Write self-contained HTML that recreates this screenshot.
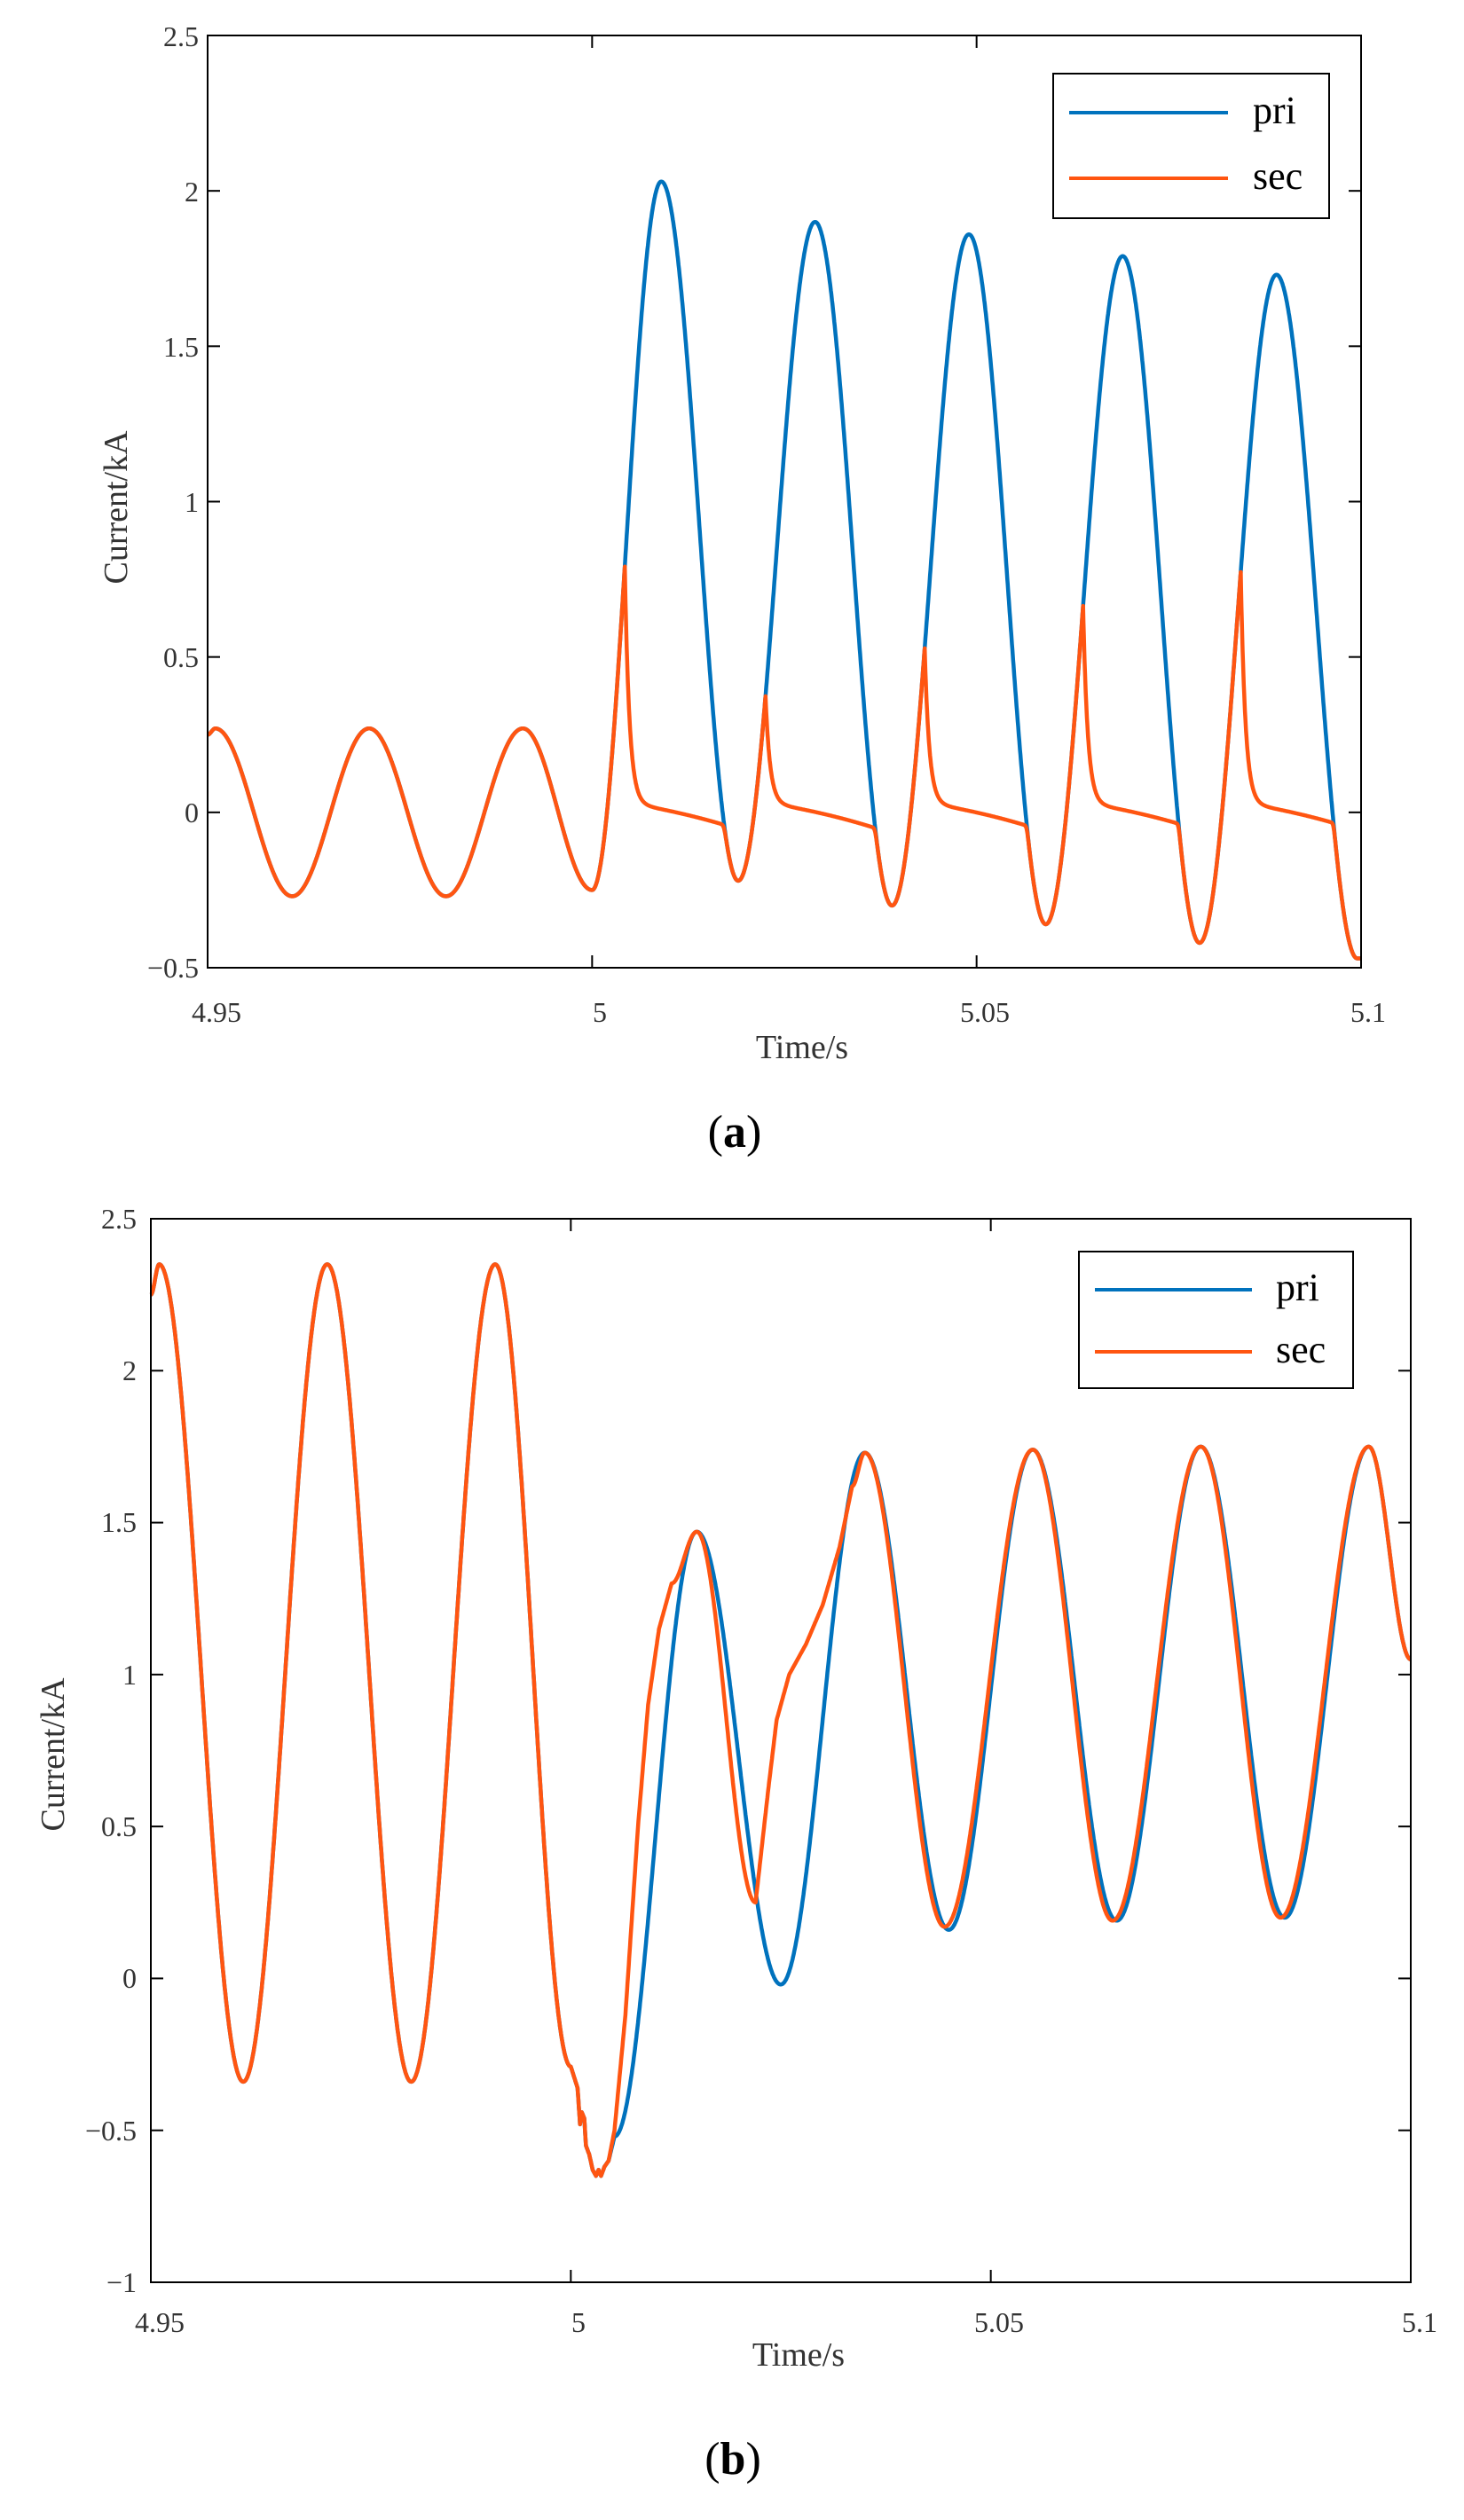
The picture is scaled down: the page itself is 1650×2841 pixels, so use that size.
<!DOCTYPE html>
<html><head><meta charset="utf-8">
<style>
html,body{margin:0;padding:0;background:#fff;}
svg{display:block;}
text{font-family:"Liberation Serif",serif;}
</style></head>
<body>
<svg id="s" width="1650" height="2841" viewBox="0 0 1650 2841" xmlns="http://www.w3.org/2000/svg">
<rect width="1650" height="2841" fill="#fff"/>
<g id="ga"></g>
<g id="gb"></g>
<g font-size="32" fill="#333" text-anchor="end">
<text x="224" y="52">2.5</text>
<text x="224" y="227">2</text>
<text x="224" y="402">1.5</text>
<text x="224" y="577">1</text>
<text x="224" y="752">0.5</text>
<text x="224" y="927">0</text>
<text x="224" y="1102">−0.5</text>
</g>
<g font-size="32" fill="#333" text-anchor="middle">
<text x="244" y="1152">4.95</text>
<text x="676" y="1152">5</text>
<text x="1110" y="1152">5.05</text>
<text x="1542" y="1152">5.1</text>
<text x="904" y="1193" font-size="38">Time/s</text>
<text transform="translate(143,572) rotate(-90)" font-size="38">Current/kA</text>
<text x="828" y="1293" font-size="52" fill="#000"><tspan>(</tspan><tspan font-weight="bold">a</tspan><tspan>)</tspan></text>
</g>
<g font-size="32" fill="#333" text-anchor="end">
<text x="154" y="1385">2.5</text>
<text x="154" y="1556">2</text>
<text x="154" y="1727">1.5</text>
<text x="154" y="1899">1</text>
<text x="154" y="2070">0.5</text>
<text x="154" y="2241">0</text>
<text x="154" y="2413">−0.5</text>
<text x="154" y="2584">−1</text>
</g>
<g font-size="32" fill="#333" text-anchor="middle">
<text x="180" y="2629">4.95</text>
<text x="652" y="2629">5</text>
<text x="1126" y="2629">5.05</text>
<text x="1600" y="2629">5.1</text>
<text x="900" y="2667" font-size="38">Time/s</text>
<text transform="translate(72,1978) rotate(-90)" font-size="38">Current/kA</text>
<text x="826" y="2789" font-size="52" fill="#000"><tspan>(</tspan><tspan font-weight="bold">b</tspan><tspan>)</tspan></text>
</g>
</svg>
<script>
var NS="http://www.w3.org/2000/svg";
var BLUE="#0072BD",ORG="#FF5511";
function el(tag,attrs,parent){var e=document.createElementNS(NS,tag);for(var k in attrs)e.setAttribute(k,attrs[k]);parent.appendChild(e);return e;}
function interp(knots,t){
  for(var i=1;i<knots.length;i++){
    var a=knots[i-1],b=knots[i];
    if(t<=b[0]){var s=(t-a[0])/(b[0]-a[0]);if(s<0)s=0;
      if(b[2]==='l')return a[1]+(b[1]-a[1])*s;
      return a[1]+(b[1]-a[1])*(1-Math.cos(Math.PI*s))/2;}
  }
  return knots[knots.length-1][1];
}
function drawAxes(g,L,R,T,B,xt,yt){
  var tl=14;
  el('rect',{x:L,y:T,width:R-L,height:B-T,fill:'none',stroke:'#000','stroke-width':2},g);
  xt.forEach(function(x){el('line',{x1:x,y1:B,x2:x,y2:B-tl,stroke:'#000','stroke-width':2},g);el('line',{x1:x,y1:T,x2:x,y2:T+tl,stroke:'#000','stroke-width':2},g);});
  yt.forEach(function(y){el('line',{x1:L,y1:y,x2:L+tl,y2:y,stroke:'#000','stroke-width':2},g);el('line',{x1:R,y1:y,x2:R-tl,y2:y,stroke:'#000','stroke-width':2},g);});
}
function poly(g,pts,color){el('polyline',{points:pts.join(' '),fill:'none',stroke:color,'stroke-width':4.5,'stroke-linejoin':'round'},g);}
function legend(g,x1,y1,x2,y2,l1,l2,ly1,ly2,tx){
  el('rect',{x:x1,y:y1,width:x2-x1,height:y2-y1,fill:'#fff',stroke:'#000','stroke-width':2},g);
  el('line',{x1:l1,y1:ly1,x2:l2,y2:ly1,stroke:BLUE,'stroke-width':4},g);
  el('line',{x1:l1,y1:ly2,x2:l2,y2:ly2,stroke:ORG,'stroke-width':4},g);
  var t1=el('text',{x:tx,y:ly1+12,'font-size':44,fill:'#000'},g);t1.textContent='pri';
  var t2=el('text',{x:tx,y:ly2+12,'font-size':44,fill:'#000'},g);t2.textContent='sec';
}
(function(){
  var g=document.getElementById('ga');
  var L=234,R=1534,T=40,B=1091;
  var X=function(t){return L+(t-4.95)/0.15*(R-L);};
  var Y=function(v){return B-(v+0.5)/3*(B-T);};
  var pk=[[4.95,0.25],[4.951,0.27],[4.961,-0.27],[4.971,0.27],[4.981,-0.27],[4.991,0.27],[5.0,-0.25],
          [5.009,2.03],[5.019,-0.22],[5.029,1.9],[5.039,-0.30],[5.049,1.86],[5.059,-0.36],[5.069,1.79],[5.079,-0.42],[5.089,1.73],[5.0995,-0.47],[5.1,-0.47]];
  var spikes=[0.78,0.36,0.52,0.65,0.76];
  var P=[],S=[];
  var mode='follow',k=-1,ts=0,vs=0;
  for(var i=0;i<=3000;i++){
    var t=4.95+i*0.00005;
    var p=interp(pk,t);
    var s=p;
    if(t>5.0){
      var c=Math.floor((t-5.0)/0.02+0.05);
      var ph=(t-5.0)-c*0.02;
      if(c!==k){k=c;mode='follow';}
      if(mode==='follow'){
        if(k<spikes.length && p>=spikes[k] && ph<0.0095){mode='decay';ts=t;vs=p;}
        s=p;
      }
      if(mode==='decay'){
        var dt=t-ts;
        var base=0.03-3.5*dt-150*dt*dt;
        var d=base+(vs-base)*Math.exp(-dt/0.0006);
        var kk=0.02;
        s=-kk*Math.log(Math.exp(-p/kk)+Math.exp(-d/kk));
        if(dt<0.0003)s=Math.min(p,d);
      }
    }
    P.push(X(t).toFixed(1)+','+Y(p).toFixed(1));
    S.push(X(t).toFixed(1)+','+Y(s).toFixed(1));
  }
  poly(g,P,BLUE);poly(g,S,ORG);
  var xt=[X(5.0),X(5.05)],yt=[];for(var v=-0.5;v<=2.51;v+=0.5)yt.push(Y(v));
  drawAxes(g,L,R,T,B,xt,yt);
  legend(g,1187,83,1498,246,1205,1384,127,201,1412);
})();
(function(){
  var g=document.getElementById('gb');
  var L=170,R=1590,T=1374,B=2573;
  var X=function(t){return L+(t-4.95)/0.15*(R-L);};
  var Y=function(v){return B-(v+1)/3.5*(B-T);};
  var common=[[4.95,2.25],[4.951,2.35],[4.961,-0.34],[4.971,2.35],[4.981,-0.34],[4.991,2.35],[5.0,-0.29],
    [5.0008,-0.36,'l'],[5.0011,-0.48,'l'],[5.0013,-0.44,'l'],[5.0016,-0.46,'l'],[5.0018,-0.55,'l'],[5.0022,-0.58,'l'],[5.0026,-0.63,'l'],[5.003,-0.65,'l'],[5.0033,-0.63,'l'],[5.0036,-0.65,'l'],[5.004,-0.62,'l'],[5.0045,-0.6,'l']];
  var pri=common.concat([[5.0052,-0.52,'l'],[5.015,1.47],[5.025,-0.02],[5.035,1.73],[5.045,0.16],[5.055,1.74],[5.065,0.19],[5.075,1.75],[5.085,0.2],[5.095,1.75],[5.1,1.05]]);
  var sec=common.concat([[5.0052,-0.5,'l'],[5.0065,-0.12,'l'],[5.008,0.5,'l'],[5.0092,0.9,'l'],[5.0105,1.15,'l'],[5.012,1.3,'l'],[5.015,1.47],
    [5.022,0.25],[5.0235,0.62,'l'],[5.0245,0.85,'l'],[5.026,1.0,'l'],[5.028,1.1,'l'],[5.030,1.23,'l'],[5.032,1.42,'l'],[5.0335,1.62,'l'],[5.035,1.73],
    [5.0445,0.17],[5.055,1.74],[5.0645,0.19],[5.075,1.75],[5.0845,0.2],[5.095,1.75],[5.1,1.05]]);
  var P=[],S=[];
  for(var i=0;i<=3000;i++){
    var t=4.95+i*0.00005;
    var p=interp(pri,t),s=interp(sec,t);
    P.push(X(t).toFixed(1)+','+Y(p).toFixed(1));
    S.push(X(t).toFixed(1)+','+Y(s).toFixed(1));
  }
  poly(g,P,BLUE);poly(g,S,ORG);
  var xt=[X(5.0),X(5.05)],yt=[];for(var v=-1;v<=2.51;v+=0.5)yt.push(Y(v));
  drawAxes(g,L,R,T,B,xt,yt);
  legend(g,1216,1411,1525,1565,1234,1411,1454,1524,1438);
})();
</script>
</body></html>
